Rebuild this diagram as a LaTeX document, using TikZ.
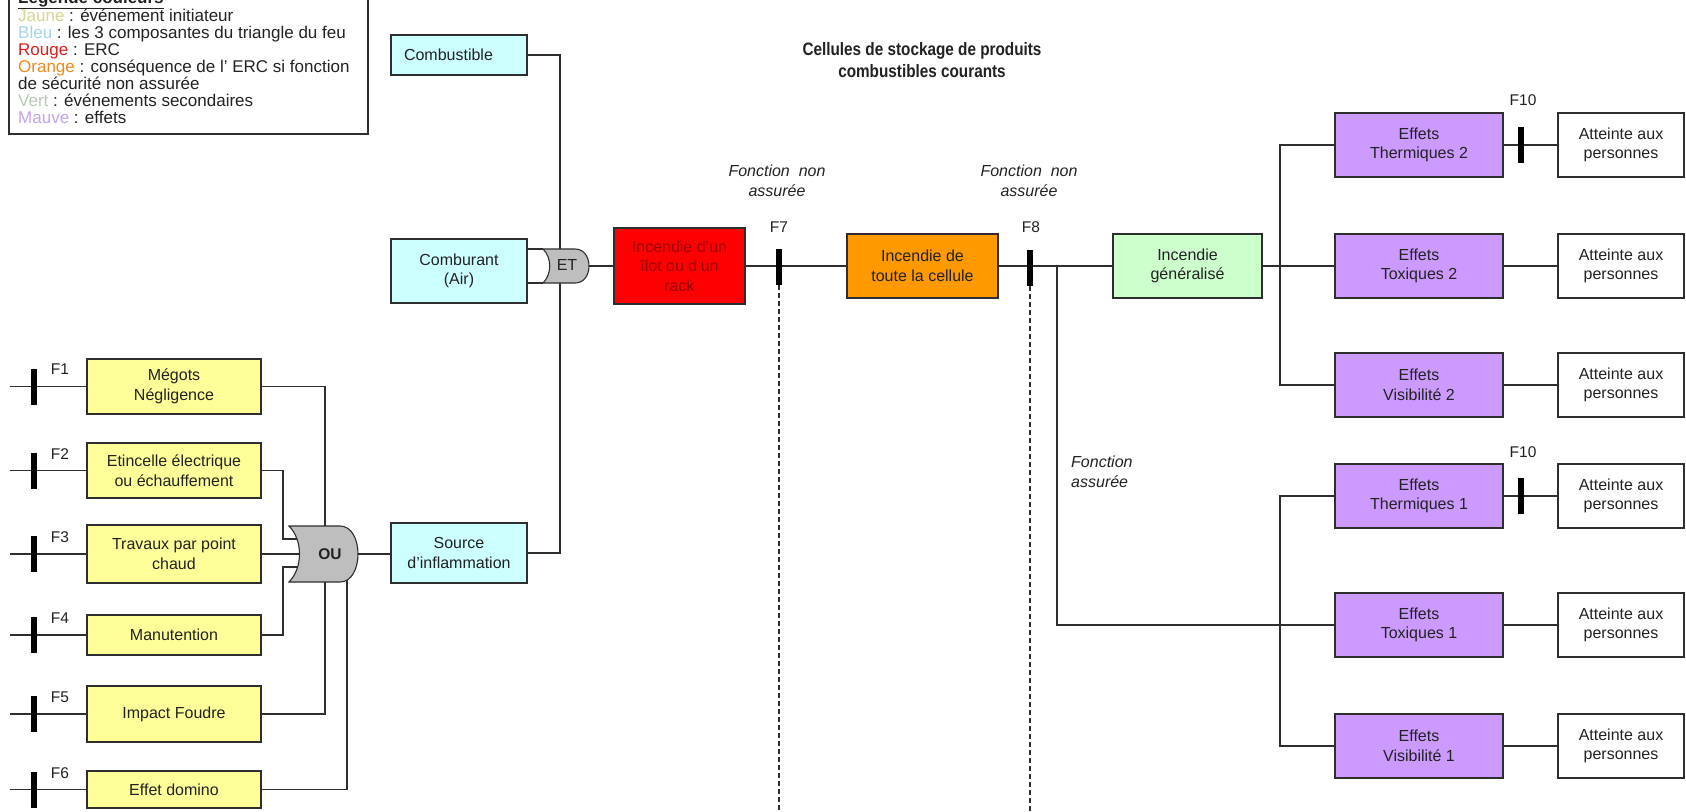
\documentclass[tikz,border=0pt]{standalone}
\usepackage{graphicx}
\usepackage{fontspec}
\setmainfont{Liberation Sans}
\newcommand\bxfont{\fontsize{16}{19.5}\selectfont}
\newcommand\lgfont{\fontsize{17}{17}\selectfont}
\newcommand\flfont{\fontsize{15.5}{18}\selectfont}
\newcommand\ntfont{\itshape\fontsize{16}{20}\selectfont}
\newcommand\narrowtxt[1]{\scalebox{0.85}[1]{#1}}
\definecolor{cYellow}{HTML}{FFFF99}
\definecolor{cCyan}{HTML}{CCFFFF}
\definecolor{cRed}{HTML}{FF0000}
\definecolor{cOrange}{HTML}{FF9900}
\definecolor{cGreen}{HTML}{CCFFCC}
\definecolor{cPurple}{HTML}{CC99FF}
\definecolor{cGate}{HTML}{BEBEBE}
\definecolor{lineC}{HTML}{2E2E2E}
\definecolor{txtC}{HTML}{222222}
\definecolor{ercTxt}{HTML}{9A0000}
\definecolor{lJaune}{HTML}{D6D690}
\definecolor{lBleu}{HTML}{A8D3EE}
\definecolor{lRouge}{HTML}{E01E1E}
\definecolor{lOrange}{HTML}{F08A1E}
\definecolor{lVert}{HTML}{B6CBB6}
\definecolor{lMauve}{HTML}{C3A3F0}
\begin{document}
\begin{tikzpicture}[x=1pt,y=-1pt,
  wire/.style={draw=lineC, line width=1.3pt},
  base/.style={rectangle, draw=lineC, line width=1.3pt, text=txtC, align=center,
               inner sep=0pt, font=\bxfont},
  ybox/.style={base, fill=cYellow, minimum width=174pt},
  cbox/.style={base, fill=cCyan, minimum width=136pt},
  pbox/.style={base, fill=cPurple, minimum width=168pt, minimum height=64pt},
  wbox/.style={base, fill=white, minimum width=126pt, minimum height=64pt},
  fbar/.style={rectangle, fill=black, minimum width=6pt, minimum height=36pt, inner sep=0pt},
  flab/.style={font=\flfont, text=txtC, inner sep=0pt},
  note/.style={font=\ntfont, text=txtC, align=center, inner sep=0pt},
  leg/.style={font=\lgfont, text=txtC, anchor=base west, inner sep=0pt},
  gate/.style={fill=cGate, draw=lineC, line width=1.1pt},
  dashline/.style={draw=lineC, line width=1.3pt, dash pattern=on 5pt off 3pt}
]
\useasboundingbox (0,0) rectangle (1686,811);
\clip (0,0) rectangle (1686,811);
\fill[white] (0,0) rectangle (1686,811);

% ---------- legend ----------
\draw[draw=lineC, line width=1.3pt] (9,-6) rectangle (368,134);
\node[leg, font=\bfseries\lgfont] (legT) at (18,3) {\underline{Légende couleurs}};
\node[leg] (leg1) at (18,21)  {\textcolor{lJaune}{Jaune} : événement initiateur};
\node[leg] (leg2) at (18,38)  {\textcolor{lBleu}{Bleu} : les 3 composantes du triangle du feu};
\node[leg] (leg3) at (18,55)  {\textcolor{lRouge}{Rouge} : ERC};
\node[leg] (leg4) at (18,72.5)  {\textcolor{lOrange}{Orange} : conséquence de l' ERC si fonction};
\node[leg] (leg5) at (18,89.5)  {de sécurité non assurée};
\node[leg] (leg6) at (18,106.5) {\textcolor{lVert}{Vert} : événements secondaires};
\node[leg] (leg7) at (18,123.5) {\textcolor{lMauve}{Mauve} : effets};

% ---------- title ----------
\node[font=\bfseries\fontsize{18}{21.5}\selectfont, align=center, text=txtC] (title) at (922,60)
  {\narrowtxt{Cellules de stockage de produits}\\\narrowtxt{combustibles courants}};

% ---------- initiating events ----------
\node[ybox, minimum height=55pt] (m1) at (174,386.5) {Mégots\\Négligence};
\node[ybox, minimum height=55pt] (m2) at (174,470.5) {Etincelle électrique\\ou échauffement};
\node[ybox, minimum height=58pt] (m3) at (174,554)   {Travaux par point\\chaud};
\node[ybox, minimum height=40pt] (m4) at (174,635)   {Manutention};
\node[ybox, minimum height=56pt] (m5) at (174,714)   {Impact Foudre};
\node[ybox, minimum height=37pt] (m6) at (174,789.5) {Effet domino};

\foreach \i/\y in {1/386.5,2/470.5,3/554,4/635,5/714,6/789.5}{
  \coordinate (in\i) at (10,\y);
  \draw[wire] (in\i) -- (m\i.west);
  \node[fbar] (f\i) at (34,\y) {};
}
\foreach \i/\y in {1/369,2/454,3/537,4/618,5/697,6/773}{
  \node[flab] (fl\i) at (60,\y) {F\i};
}

% ---------- OU gate ----------
\coordinate (ouTop) at (325,530);
\coordinate (ouBotA) at (325,578);
\coordinate (ouBotB) at (347,576);
\coordinate (ouInA) at (306,539);
\coordinate (ouInB) at (306,554);
\coordinate (ouInC) at (306,567);
\coordinate (ouOut) at (358,554);
\draw[wire] (m1.east) -| (ouTop);
\draw[wire] (m2.east) -- (283,470.5) |- (ouInA);
\draw[wire] (m3.east) -- (ouInB);
\draw[wire] (m4.east) -- (283,635) |- (ouInC);
\draw[wire] (m5.east) -| (ouBotA);
\draw[wire] (m6.east) -| (ouBotB);
\begin{scope}[shift={(325,554)}]
  \path[gate] (-36,-28) -- (15,-28) .. controls (27,-28) and (33,-14) .. (33,0)
     .. controls (33,14) and (27,28) .. (15,28) -- (-36,28)
     .. controls (-22,14) and (-22,-14) .. (-36,-28) -- cycle;
\end{scope}
\node[font=\bfseries\flfont, text=txtC, inner sep=0pt] (ou) at (330,554) {OU};

% ---------- fire triangle ----------
\node[cbox, minimum height=40pt, align=left, text width=110pt, inner xsep=13pt] (comb) at (459,55) {Combustible};
\node[cbox, minimum height=64pt] (air) at (459,271) {Comburant\\(Air)};
\node[cbox, minimum height=60pt] (src) at (459,553) {Source\\d'inflammation};
\draw[wire] (ouOut) -- (ouOut -| src.west);

\coordinate (etBus) at (560,266);
\draw[wire] (comb.east) -| (etBus);
\draw[wire] (src.east) -| (etBus);
\coordinate (etH1) at (543,249);
\coordinate (etH2) at (543,283);
\draw[wire] (etH1 -| air.east) -- (etH1);
\draw[wire] (etH2 -| air.east) -- (etH2);
\begin{scope}[shift={(560,266)}]
  \path[gate] (-17,-17) -- (15,-17) .. controls (24,-17) and (29,-9) .. (29,0)
     .. controls (29,9) and (24,17) .. (15,17) -- (-17,17)
     .. controls (-8,8) and (-8,-8) .. (-17,-17) -- cycle;
\end{scope}
\coordinate (etOut) at (589,266);
\node[font=\fontsize{16}{18}\selectfont, text=txtC, inner sep=0pt] (et) at (567,265) {ET};

% ---------- central chain ----------
\node[base, fill=cRed, text=ercTxt, minimum width=131pt, minimum height=76pt] (erc) at (679.5,266)
  {Incendie d'un\\îlot ou d'un\\rack};
\node[base, fill=cOrange, minimum width=151pt, minimum height=64pt] (cell) at (922.5,266)
  {Incendie de\\toute la cellule};
\node[base, fill=cGreen, minimum width=149pt, minimum height=64pt] (gen) at (1187.5,266)
  {Incendie\\généralisé};

\draw[wire] (etOut) -- (erc.west);
\draw[wire] (erc.east) -- (cell.west);
\draw[wire] (cell.east) -- (gen.west);

\node[fbar] (f7) at (779,266.5) {};
\node[fbar] (f8) at (1030,268) {};
\node[flab] (fl7) at (779,227) {F7};
\node[flab] (fl8) at (1031,227) {F8};
\node[note] (n7) at (777,181) {Fonction~~non\\assurée};
\node[note] (n8) at (1029,181) {Fonction~~non\\assurée};
\coordinate (d7) at (779,811);
\coordinate (d8) at (1030,811);
\draw[dashline] (f7.south) -- (d7);
\draw[dashline] (f8.south) -- (d8);

% ---------- effects ----------
\node[pbox] (t2) at (1419,145) {Effets\\Thermiques 2};
\node[pbox] (x2) at (1419,266) {Effets\\Toxiques 2};
\node[pbox] (v2) at (1419,385) {Effets\\Visibilité 2};
\node[pbox] (t1) at (1419,496) {Effets\\Thermiques 1};
\node[pbox] (x1) at (1419,625) {Effets\\Toxiques 1};
\node[pbox] (v1) at (1419,746) {Effets\\Visibilité 1};

\foreach \n/\y in {a1/145,a2/266,a3/385,a4/496,a5/625,a6/746}{
  \node[wbox] (\n) at (1621,\y) {Atteinte aux\\personnes};
}
\draw[wire] (t2.east) -- (a1.west);
\draw[wire] (x2.east) -- (a2.west);
\draw[wire] (v2.east) -- (a3.west);
\draw[wire] (t1.east) -- (a4.west);
\draw[wire] (x1.east) -- (a5.west);
\draw[wire] (v1.east) -- (a6.west);

\draw[wire] (gen.east) -- (x2.west);
\coordinate (bus2) at (1280,266);
\draw[wire] (t2.west) -| (bus2);
\draw[wire] (v2.west) -| (bus2);

\coordinate (brk) at (1057,266);
\draw[wire] (brk) |- (x1.west);
\coordinate (bus1) at (1280,625);
\draw[wire] (t1.west) -| (bus1);
\draw[wire] (v1.west) -| (bus1);
\node[note, align=left, anchor=west] (n9) at (1071,472) {Fonction\\assurée};

\node[fbar] (f10a) at (1521,145) {};
\node[fbar] (f10b) at (1521,496) {};
\node[flab] (fl10a) at (1523,100) {F10};
\node[flab] (fl10b) at (1523,452) {F10};
\end{tikzpicture}
\end{document}
